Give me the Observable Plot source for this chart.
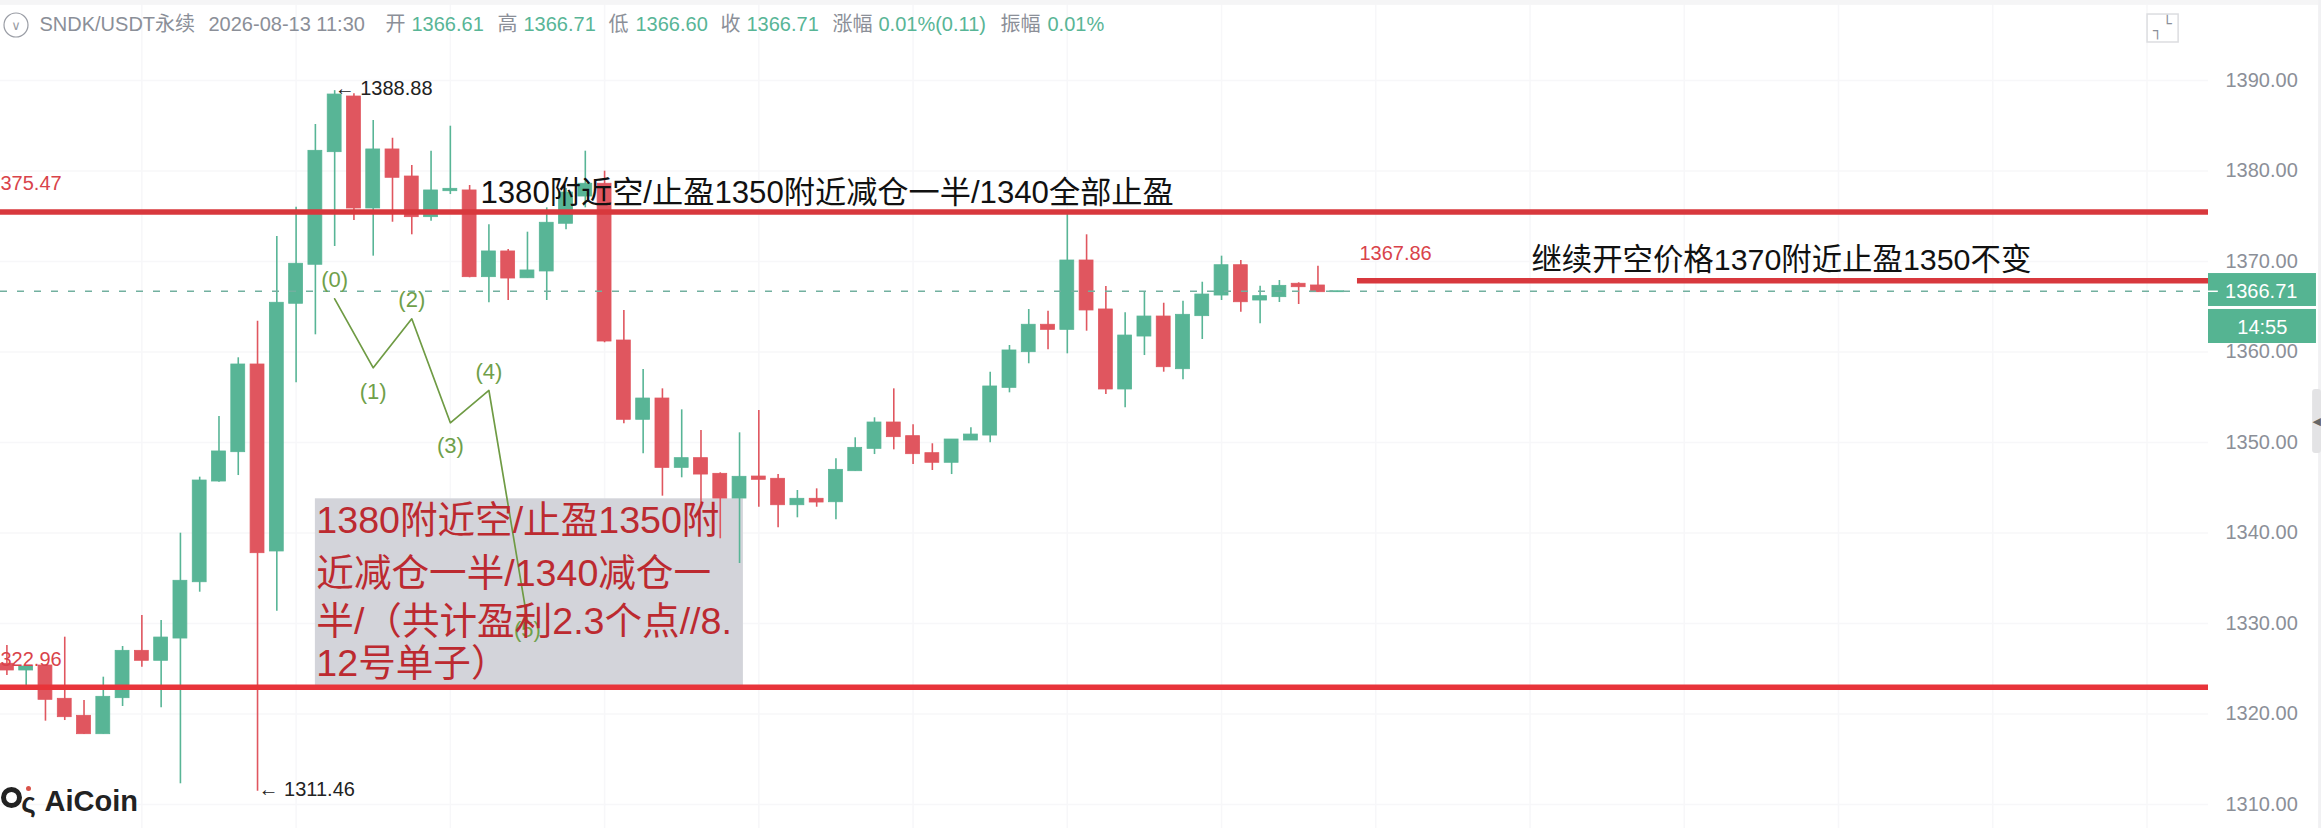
<!DOCTYPE html>
<html lang="zh">
<head>
<meta charset="utf-8">
<script src="https://cdn.jsdelivr.net/npm/d3@7"></script>
<script src="https://cdn.jsdelivr.net/npm/@observablehq/plot@0.6"></script>
<style>
html,body{margin:0;padding:0;background:#fff;overflow:hidden}
svg{display:block}
</style>
</head>
<body>
<div id="chart"></div>
<script>
const opens = [1325.55,1324.81,1325.36,1321.68,1319.80,1317.77,1321.75,1326.98,1325.88,1328.34,
1334.56,1345.69,1348.93,1358.62,1337.96,1365.33,1369.64,1382.08,1388.23,1375.86,
1382.38,1379.39,1374.90,1377.77,1377.85,1368.27,1371.11,1368.15,1368.90,1374.17,
1377.18,1378.59,1361.27,1352.51,1354.86,1347.20,1348.27,1346.54,1343.81,1346.24,
1345.99,1343.07,1343.78,1343.40,1346.83,1349.30,1352.21,1350.70,1348.82,1347.76,
1350.22,1350.77,1356.04,1359.98,1363.01,1362.45,1370.11,1364.70,1355.86,1361.71,
1363.92,1358.10,1363.96,1366.24,1369.59,1365.69,1366.06,1367.54,1367.35,1366.61];
const closes = [1324.81,1325.25,1321.57,1319.65,1317.77,1321.90,1326.98,1325.88,1328.45,1334.72,
1345.80,1349.01,1358.62,1337.77,1365.44,1369.75,1382.23,1388.45,1375.86,1382.38,
1379.25,1374.90,1377.85,1378.03,1368.27,1371.11,1368.12,1369.01,1374.28,1377.62,
1378.59,1361.16,1352.51,1354.86,1347.20,1348.27,1346.46,1343.81,1346.21,1345.88,
1343.07,1343.78,1343.37,1346.98,1349.41,1352.21,1350.59,1348.71,1347.76,1350.33,
1350.88,1356.19,1360.17,1363.01,1362.45,1370.11,1364.59,1355.86,1361.82,1363.92,
1358.32,1364.11,1366.35,1369.59,1365.50,1366.17,1367.31,1367.16,1366.61,1366.71];
const highs = [1327.57,1325.25,1325.36,1328.49,1321.49,1324.07,1327.46,1330.88,1330.33,1339.98,
1346.17,1352.87,1359.36,1363.40,1372.76,1376.00,1385.14,1388.88,1388.53,1385.58,
1383.62,1380.61,1382.19,1384.95,1378.40,1374.06,1371.33,1373.24,1375.93,1378.07,
1382.19,1379.98,1364.59,1358.07,1355.93,1353.61,1351.33,1346.65,1351.07,1353.54,
1346.46,1344.70,1344.88,1348.20,1350.52,1352.73,1355.93,1351.96,1349.86,1350.33,
1351.63,1357.77,1360.72,1364.70,1364.51,1375.27,1372.95,1367.24,1364.33,1366.61,
1365.39,1365.61,1367.71,1370.59,1370.11,1367.27,1367.90,1367.65,1369.48,1366.71];
const lows = [1324.25,1322.60,1319.21,1319.28,1317.74,1317.77,1320.83,1325.17,1320.69,1312.29,
1333.46,1345.61,1346.35,1311.46,1331.36,1356.60,1361.90,1371.66,1374.53,1370.59,
1374.34,1372.95,1374.45,1377.40,1368.20,1365.44,1365.69,1368.15,1365.69,1373.50,
1375.93,1361.02,1352.07,1348.75,1344.07,1346.10,1343.26,1339.36,1336.63,1342.85,
1340.58,1341.68,1342.85,1341.46,1346.83,1348.67,1349.19,1347.57,1346.91,1346.46,
1350.22,1349.97,1355.49,1358.70,1360.24,1359.80,1362.30,1355.30,1353.84,1359.61,
1357.77,1356.93,1361.38,1365.69,1364.40,1363.12,1365.47,1365.25,1366.61,1366.60];

const priceTicks = [1310,1320,1330,1340,1350,1360,1370,1380,1390];
const gridCandles = [7,15,23,31,39,47,55,63,71,79,87,95,103,111];
const lastPrice = 1366.71;
const levelPrices = [1375.47,1322.96,1367.86];
const levelStarts = [-0.332,-0.332,70.05];
const levelColors = ["#d8383d","#e8343a","#d8383d"];

const waveX = [17,19,21,23,25,27];
const waveY = [1365.88,1358.25,1363.67,1352.18,1355.75,1330.33];
const waveLabels = ["(0)","(1)","(2)","(3)","(4)","(5)"];
const waveLabelX = [17,19,21,23,25,27];
const waveLabelY = [1368.01,1355.56,1365.77,1349.59,1357.85,1329.34];

const blackNotes = ["1380附近空/止盈1350附近减仓一半/1340全部止盈","继续开空价格1370附近止盈1350不变"];
const blackNoteSizes = [31.2,30.4];
const blackNoteX = [24.56,79.07];
const blackNoteY = [1376.41,1369.01];

const levelLabels = ["375.47","322.96","1367.86"];
const levelLabelX = [-0.332,-0.332,70.15];
const levelLabelY = [1377.85,1325.3,1370.2];

const extremeLabels = ["← 1388.88","← 1311.46"];
const extremeX = [17.0,13.05];
const extremeY = [1388.35,1310.95];

const redNote = ["1380附近空/止盈1350附","近减仓一半/1340减仓一","半/（共计盈利2.3个点//8.","12号单子）"];
const redNoteY = [1340.05,1334.20,1328.80,1324.15];

const headerLabels = ["SNDK/USDT永续","2026-08-13 11:30","开","1366.61","高","1366.71","低","1366.60","收","1366.71","涨幅","0.01%(0.11)","振幅","0.01%"];
const headerOffsets = [39,208,385,411,497,523,608,635,720,746,832,878,1000,1047];
const headerIsValue = [0,0,0,1,0,1,0,1,0,1,0,1,0,1];

const GREEN = "#58b596", RED = "#e0565f", GREY = "#8b8f98";
const LAT = '"Liberation Sans","Noto Sans CJK SC",sans-serif';
const candles = opens.map((o,i)=>({i,o,c:closes[i],h:highs[i],l:lows[i]}));
const candleColor = d => d.c >= d.o ? GREEN : RED;
const W = 0.36;

const chart = Plot.plot({
  width: 2321, height: 828,
  marginTop: 0, marginLeft: 0, marginBottom: 0, marginRight: 113,
  x: {domain: [-0.332, 114.19], axis: null},
  y: {domain: [1307.35, 1398.84], axis: null},
  style: {background: "#fff", fontFamily: LAT},
  marks: [
    Plot.ruleY(priceTicks, {stroke: "#f7f7f9", strokeWidth: 1.5, x1: -0.332, x2: 114.19}),
    Plot.ruleX(gridCandles, {stroke: "#f7f7f9", strokeWidth: 1.5}),
    // grey note box sits underneath the candles
    Plot.rect([0], {x1: 16.0, x2: 38.2, y1: 1322.96, y2: 1343.78, fill: "#d3d4da"}),
    Plot.ruleX(candles, {x: "i", y1: "l", y2: "h", stroke: candleColor, strokeWidth: 1.6}),
    Plot.rect(candles, {x1: d=>d.i-W, x2: d=>d.i+W, y1: "o", y2: "c", fill: candleColor, stroke: candleColor, strokeWidth: 0.8}),
    Plot.ruleY([lastPrice], {x1: -0.332, x2: 114.19, stroke: "#72b09f", strokeWidth: 1.6, strokeDasharray: "7 10"}),
    Plot.line(waveX.map((x,k)=>({x,y:waveY[k]})), {x:"x", y:"y", stroke:"#6f9b44", strokeWidth:1.7}),
    Plot.text(waveLabels, {x:(d,k)=>waveLabelX[k], y:(d,k)=>waveLabelY[k], text:d=>d, fill:"#6fa04a", fontSize:22, textAnchor:"middle", lineAnchor:"middle"}),
    Plot.ruleY(levelPrices, {x1:(d,k)=>levelStarts[k], x2:114.19, stroke:(d,k)=>levelColors[k], strokeWidth:5.5}),
    Plot.text(blackNotes, {x:(d,k)=>blackNoteX[k], y:(d,k)=>blackNoteY[k], text:d=>d, fill:"#111", fontSize:(d,k)=>blackNoteSizes[k], textAnchor:"start", lineAnchor:"bottom"}),
    Plot.text(levelLabels, {x:(d,k)=>levelLabelX[k], y:(d,k)=>levelLabelY[k], text:d=>d, fill:"#d9434a", fontSize:20, textAnchor:"start", lineAnchor:"bottom"}),
    Plot.text(extremeLabels, {x:(d,k)=>extremeX[k], y:(d,k)=>extremeY[k], text:d=>d, fill:"#222", fontSize:20, textAnchor:"start", lineAnchor:"bottom"}),
    Plot.text(redNote, {x:16.05, y:(d,k)=>redNoteY[k], text:d=>d, fill:"#bc2a30", fontSize:37.6, textAnchor:"start", lineAnchor:"bottom"}),
    // price axis on the right
    Plot.axisY(priceTicks, {anchor:"right", tickSize:0, tickPadding:17, tickFormat:d=>d.toFixed(2), color:GREY, fontSize:20, label:null}),
    // last price tags
    Plot.rect([0], {x1:114.19, x2:119.79, y1:1365.03, y2:1368.67, fill:"#55b492"}),
    Plot.rect([0], {x1:114.19, x2:119.79, y1:1360.94, y2:1364.70, fill:"#55b492"}),
    Plot.ruleY([lastPrice], {x1:114.19, x2:114.7, stroke:"#fff", strokeWidth:1.5}),
    Plot.text(["1366.71"], {x:115.05, y:lastPrice, text:d=>d, fill:"#fff", fontSize:20, textAnchor:"start", lineAnchor:"middle"}),
    Plot.text(["14:55"], {x:116.98, y:1362.75, text:d=>d, fill:"#fff", fontSize:20, textAnchor:"middle", lineAnchor:"middle"}),
    // header row
    ...headerLabels.map((t,k)=>Plot.text([t], {frameAnchor:"top-left", dx:headerOffsets[k], dy:30, text:d=>d, fill:headerIsValue[k]?GREEN:GREY, fontSize:20, textAnchor:"start", lineAnchor:"bottom"})),
    Plot.dot([0], {frameAnchor:"top-left", dx:15.5, dy:24.5, r:12, stroke:"#9a9da5", strokeWidth:1.2, fill:"none"}),
    Plot.text(["∨"], {frameAnchor:"top-left", dx:15.5, dy:25, text:d=>d, fill:"#9a9da5", fontSize:13, textAnchor:"middle", lineAnchor:"middle", fontFamily:'"DejaVu Sans"'}),
    // window chrome
    Plot.rect([0], {x1:111.03, x2:112.64, y1:1394.2, y2:1397.29, fill:"#fff", stroke:"#dcdde0", strokeWidth:1.5}),
    Plot.text(["└"], {x:112.05, y:1396.2, text:d=>d, fill:"#8b8f98", fontSize:15, textAnchor:"middle", lineAnchor:"middle", fontFamily:'"DejaVu Sans"'}),
    Plot.text(["┐"], {x:111.55, y:1395.5, text:d=>d, fill:"#8b8f98", fontSize:15, textAnchor:"middle", lineAnchor:"middle", fontFamily:'"DejaVu Sans"'}),
    Plot.rect([0], {x1:-0.332, x2:120.05, y1:1398.3, y2:1398.84, fill:"#f5f5f6"}),
    Plot.rect([0], {x1:119.9, x2:120.05, y1:1307.35, y2:1398.84, fill:"#f1f1f3"}),
    Plot.rect([0], {x1:119.59, x2:120.05, y1:1348.79, y2:1355.86, fill:"#e3e3e5", rx:3}),
    Plot.text(["◀"], {x:119.8, y:1352.3, text:d=>d, fill:"#666", fontSize:11, textAnchor:"middle", lineAnchor:"middle", fontFamily:'"DejaVu Sans"'}),
    // logo
    Plot.dot([0], {frameAnchor:"top-left", dx:11, dy:797, r:8, stroke:"#222", strokeWidth:5, fill:"none"}),
    Plot.dot([0], {frameAnchor:"top-left", dx:28, dy:788, r:2.5, fill:"#d9534a"}),
    Plot.text(["ς"], {frameAnchor:"top-left", dx:28, dy:803, text:d=>d, fill:"#222", fontSize:28, fontWeight:700, textAnchor:"middle", lineAnchor:"middle"}),
    Plot.text(["AiCoin"], {frameAnchor:"top-left", dx:44, dy:810, text:d=>d, fill:"#222", fontSize:29, fontWeight:700, textAnchor:"start", lineAnchor:"bottom"})
  ]
});
document.getElementById("chart").append(chart);
</script>
</body>
</html>
